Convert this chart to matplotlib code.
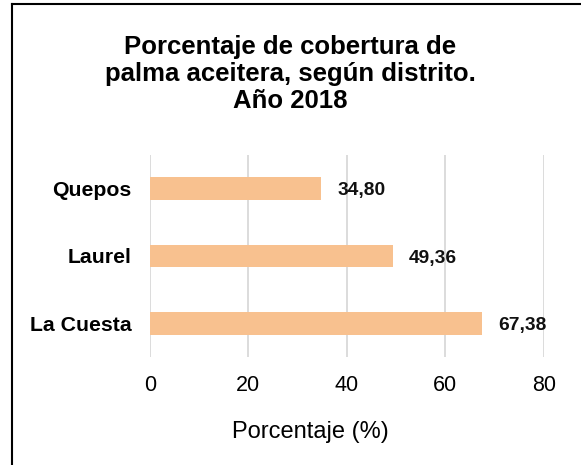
import matplotlib.pyplot as plt
from matplotlib.lines import Line2D

plt.rcParams['font.family'] = ['Liberation Sans', 'DejaVu Sans']

distritos = ['Quepos', 'Laurel', 'La Cuesta']
porcentajes = [34.80, 49.36, 67.38]
etiquetas = ['34,80', '49,36', '67,38']
ticks_x = [0, 20, 40, 60, 80]

fig = plt.figure(figsize=(5.81, 4.65), dpi=100)
ax = fig.add_axes([0.258, 0.232, 0.678, 0.435])

ax.barh(range(len(distritos)), porcentajes, height=0.34, color='#F8C18F', zorder=3)
for i, (v, t) in enumerate(zip(porcentajes, etiquetas)):
    ax.text(v + 3.3, i + 0.03, t, va='center', ha='left', fontsize=13.8,
            fontweight='bold', color='#111111')

ax.set_xlim(0, 80)
ax.set_ylim(2.5, -0.5)
ax.set_xticks(ticks_x)
ax.set_yticks(range(len(distritos)))
ax.set_yticklabels(distritos, fontsize=15.3, fontweight='bold')
ax.tick_params(axis='y', length=0, pad=13)
ax.tick_params(axis='x', length=0, pad=13, labelsize=15.5)
ax.grid(axis='x', color='#D9D9D9', linewidth=1.3, zorder=0)
for s in ax.spines.values():
    s.set_visible(False)

fig.text(0.535, 0.071, 'Porcentaje (%)', ha='center', va='center', fontsize=17)
fig.text(0.5, 0.841, 'Porcentaje de cobertura de\npalma aceitera, según distrito.\nAño 2018',
         ha='center', va='center', fontsize=18.5, fontweight='bold', linespacing=1.16)

# marco exterior
fig.add_artist(Line2D([12/581, 12/581], [0, 1 - 4.5/465], transform=fig.transFigure,
                      color='black', linewidth=1.5))
fig.add_artist(Line2D([12/581, 1], [1 - 4.5/465, 1 - 4.5/465], transform=fig.transFigure,
                      color='black', linewidth=1.5))

fig.savefig('out.png', dpi=100)
